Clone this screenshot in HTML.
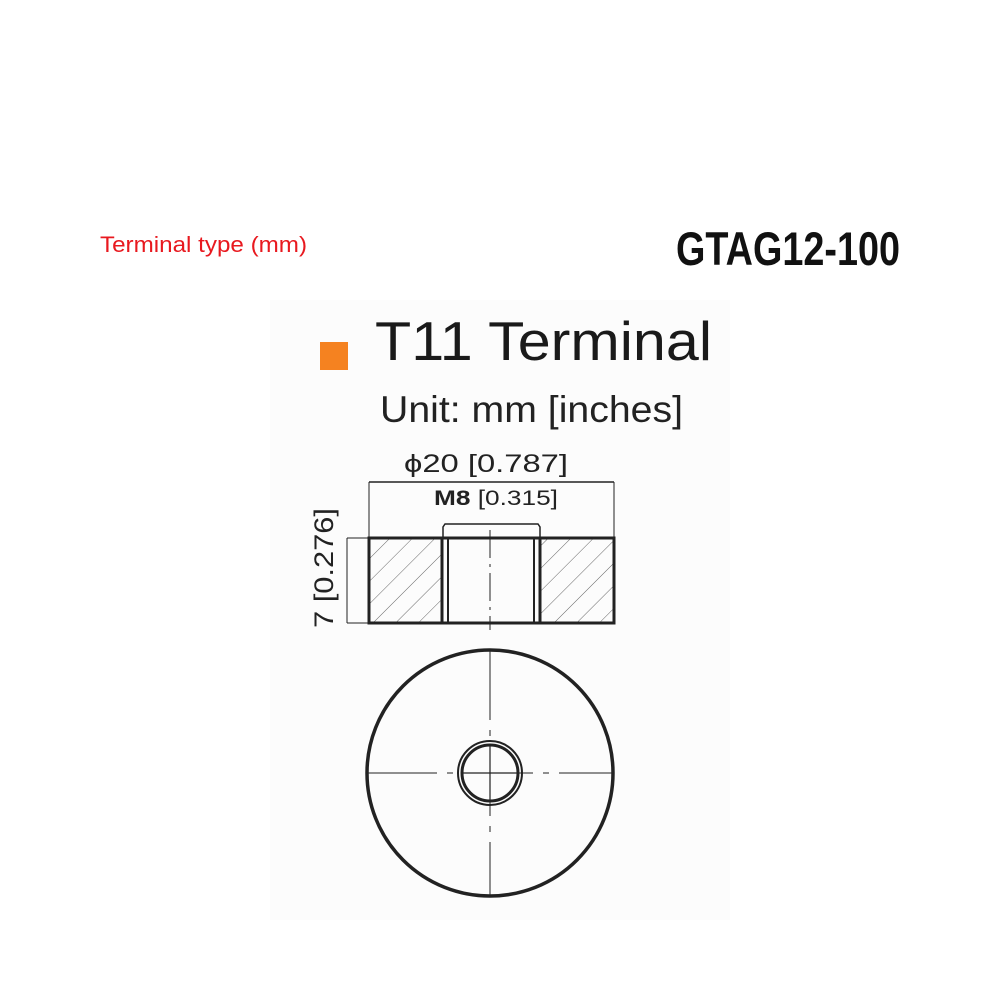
<!DOCTYPE html>
<html><head><style>html,body{margin:0;padding:0;background:#fff;}</style></head>
<body>
<svg width="1000" height="1000" viewBox="0 0 1000 1000" xmlns="http://www.w3.org/2000/svg" font-family="Liberation Sans, sans-serif">
<rect x="0" y="0" width="1000" height="1000" fill="#fff"/>
<rect x="270" y="300" width="460" height="620" fill="#fcfcfc"/>
<text x="100" y="252" font-size="22" fill="#e8191f" textLength="207" lengthAdjust="spacingAndGlyphs">Terminal type (mm)</text>
<text x="676" y="265" font-size="47" font-weight="bold" fill="#111" textLength="224" lengthAdjust="spacingAndGlyphs">GTAG12-100</text>
<rect x="320" y="342" width="28" height="28" fill="#f58220"/>
<text x="375" y="360" font-size="55" fill="#1a1a1a" textLength="337" lengthAdjust="spacingAndGlyphs">T11 Terminal</text>
<text x="380" y="422" font-size="37" fill="#222" textLength="303" lengthAdjust="spacingAndGlyphs">Unit: mm [inches]</text>
<text x="404" y="472" font-size="25" fill="#222" textLength="164" lengthAdjust="spacingAndGlyphs">ϕ20 [0.787]</text>
<line x1="369" y1="482" x2="614" y2="482" stroke="#222" stroke-width="1.5"/>
<line x1="369" y1="482" x2="369" y2="538" stroke="#222" stroke-width="1"/>
<line x1="614" y1="482" x2="614" y2="538" stroke="#222" stroke-width="1"/>
<text x="434" y="505" font-size="21" fill="#222" textLength="124" lengthAdjust="spacingAndGlyphs"><tspan font-weight="bold">M8</tspan> [0.315]</text>
<text transform="translate(333,628) rotate(-90)" font-size="27" fill="#222" textLength="120" lengthAdjust="spacingAndGlyphs">7 [0.276]</text>
<line x1="347" y1="538" x2="369" y2="538" stroke="#222" stroke-width="1"/>
<line x1="347" y1="538" x2="347" y2="623" stroke="#222" stroke-width="1"/>
<line x1="347" y1="623" x2="369" y2="623" stroke="#222" stroke-width="1"/>
<defs>
<pattern id="h" patternUnits="userSpaceOnUse" width="16" height="16" patternTransform="rotate(45)">
<line x1="0" y1="0" x2="0" y2="16" stroke="#666" stroke-width="1"/>
</pattern>
</defs>
<rect x="369" y="538" width="73" height="85" fill="url(#h)"/>
<rect x="540" y="538" width="73" height="85" fill="url(#h)"/>
<rect x="369" y="538" width="245" height="85" fill="none" stroke="#222" stroke-width="3"/>
<line x1="442" y1="538" x2="442" y2="623" stroke="#222" stroke-width="3"/>
<line x1="448" y1="538" x2="448" y2="623" stroke="#222" stroke-width="2"/>
<line x1="534" y1="538" x2="534" y2="623" stroke="#222" stroke-width="2"/>
<line x1="540" y1="538" x2="540" y2="623" stroke="#222" stroke-width="3"/>
<path d="M443 538 L443 527 L445 524 L538 524 L540 527 L540 538" fill="none" stroke="#222" stroke-width="1.5"/>
<line x1="490" y1="530" x2="490" y2="630" stroke="#222" stroke-width="1" stroke-dasharray="28,6,3,6"/>
<circle cx="490" cy="773" r="123" fill="none" stroke="#222" stroke-width="3.5"/>
<line x1="490" y1="650" x2="490" y2="896" stroke="#222" stroke-width="1" stroke-dasharray="70,10,6,10"/>
<line x1="367" y1="773" x2="613" y2="773" stroke="#222" stroke-width="1" stroke-dasharray="70,10,6,10"/>
<circle cx="490" cy="773" r="32" fill="none" stroke="#222" stroke-width="2"/>
<circle cx="490" cy="773" r="28" fill="none" stroke="#222" stroke-width="3"/>
<line x1="462" y1="773" x2="518" y2="773" stroke="#222" stroke-width="1.2"/>
<line x1="490" y1="745" x2="490" y2="801" stroke="#222" stroke-width="1.2"/>
</svg>
</body></html>
